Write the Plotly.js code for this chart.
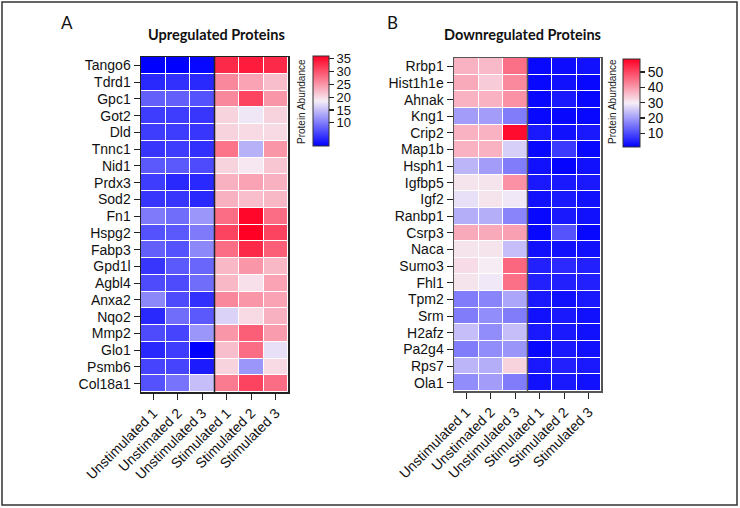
<!DOCTYPE html>
<html><head><meta charset="utf-8">
<script src="https://cdn.plot.ly/plotly-3.0.1.min.js"></script>
<style>html,body{margin:0;padding:0;background:#fff;}#chart{width:740px;height:508px;}</style>
</head><body><div id="chart"></div>
<script>
// ---- data ----
const samples = ["Unstimulated 1","Unstimated 2","Unstimulated 3","Stimulated 1","Stimulated 2","Stimulated 3"];

const upGenes = ["Tango6","Tdrd1","Gpc1","Got2","Dld","Tnnc1","Nid1","Prdx3","Sod2","Fn1","Hspg2","Fabp3","Gpd1l","Agbl4","Anxa2","Nqo2","Mmp2","Glo1","Psmb6","Col18a1"];
const upU1 = [1, 4, 8, 5.5, 5.5, 5, 7.5, 5.5, 5, 10, 7, 8, 5, 6.5, 11, 4, 6.5, 4, 6, 7];
const upU2 = [1, 4.5, 8, 5.5, 5.5, 5.5, 7.5, 4, 5, 9, 7.5, 7, 7.5, 6.5, 6.5, 9, 6, 5.5, 6, 9.5];
const upU3 = [1.5, 4, 7, 5, 5, 4.5, 6.5, 4, 4, 12, 10, 11, 8.5, 9, 4.5, 7.5, 12, 1, 3, 15];
const upS1 = [33, 26, 26, 20.5, 20.5, 27.5, 20.5, 23, 23, 28, 31, 28, 22.5, 22.5, 26, 16.5, 25, 22, 20.5, 27];
const upS2 = [34, 24, 31, 18, 20, 14, 19, 24, 22, 35.5, 36, 33, 25, 19.5, 25, 20, 29, 28, 12, 31];
const upS3 = [33, 22, 25, 20.5, 20, 25, 21.5, 23, 22.5, 28, 31, 29, 22.5, 24, 24, 23, 24.5, 17.5, 20, 28];

const downGenes = ["Rrbp1","Hist1h1e","Ahnak","Kng1","Crip2","Map1b","Hsph1","Igfbp5","Igf2","Ranbp1","Csrp3","Naca","Sumo3","Fhl1","Tpm2","Srm","H2afz","Pa2g4","Rps7","Ola1"];
const dnU1 = [37, 38, 37, 20, 37, 37, 23, 31, 28, 22, 38, 31, 32, 31, 16, 16, 24, 16, 23, 18];
const dnU2 = [36, 34, 37, 20, 37, 37, 20, 31, 31, 22, 38, 31, 30, 29, 17, 18, 18, 18, 22, 20];
const dnU3 = [45, 42, 41, 16, 57, 26, 16, 41, 29, 17, 39, 24, 46, 45, 21, 16, 24, 19, 33, 16];
const dnS1 = [2, 2, 2, 2, 4, 2, 3, 4, 3, 2, 2, 3, 5, 5, 4, 3, 4, 2, 4, 3];
const dnS2 = [2.5, 3, 4, 2, 3, 8, 1.5, 4, 4, 4, 11, 3, 6, 5, 3, 4, 4, 4, 5, 4];
const dnS3 = [3, 2, 2, 2, 4, 2, 3, 4, 3, 3, 2, 3, 5, 5, 4, 3, 3, 3, 4, 3];

const upTicks = [10, 15, 20, 25, 30, 35];
const dnTicks = [10, 20, 30, 40, 50];

// ---- build ----
function rows(cols){ return cols[0].map((_, i) => cols.map(c => c[i])); }
const zUp = rows([upU1, upU2, upU3, upS1, upS2, upS3]);
const zDn = rows([dnU1, dnU2, dnU3, dnS1, dnS2, dnS3]);

const cs = [[0,'rgb(0,0,255)'],[0.5,'rgb(246,238,246)'],[1,'rgb(255,0,36)']];
const W = 740, H = 508;
const font = '"Liberation Sans", Arial, sans-serif';
const tfont = 'Lato, "Open Sans", sans-serif';

const cbBase = {
  thickness: 16, thicknessmode: 'pixels', lenmode: 'pixels',
  xanchor: 'left', yanchor: 'top', outlinewidth: 1, outlinecolor: '#333',
  ticks: 'outside', ticklen: 5, tickcolor: '#222', tickwidth: 1.2, xpad: 0, ypad: 0
};

const traces = [
  {type: 'heatmap', x: samples, y: upGenes, z: zUp, xaxis: 'x', yaxis: 'y',
   colorscale: cs, zmin: 1, zmax: 36, xgap: 1, ygap: 1,
   colorbar: Object.assign({}, cbBase, {x: 313/W, y: 1-56/H, len: 90, tickvals: upTicks,
     tickfont: {family: font, size: 13, color: '#111'}})},
  {type: 'heatmap', x: samples, y: downGenes, z: zDn, xaxis: 'x2', yaxis: 'y2',
   colorscale: cs, zmin: 1, zmax: 58.5, xgap: 1, ygap: 1,
   colorbar: Object.assign({}, cbBase, {x: 623/W, y: 1-59/H, len: 88, thickness: 17, tickvals: dnTicks,
     tickfont: {family: font, size: 14, color: '#111'}})}
];

const axX = (dom, lc) => ({domain: dom, tickangle: -45, ticks: 'outside', ticklen: 6, tickcolor: '#222',
  tickmode: 'array', tickvals: samples, ticktext: samples,
  showline: true, linecolor: lc, linewidth: 1.5, mirror: true, showgrid: false, zeroline: false,
  tickfont: {family: font, size: 14, color: '#111'}, fixedrange: true});
const axY = (dom, lc, genes) => ({domain: dom, autorange: 'reversed', ticks: 'outside', ticklen: 6, tickcolor: '#222',
  tickmode: 'array', tickvals: genes, ticktext: genes,
  showline: true, linecolor: lc, linewidth: 1.5, mirror: true, showgrid: false, zeroline: false,
  tickfont: {family: font, size: 14, color: '#111'}, fixedrange: true});

const layout = {
  width: W, height: H, margin: {l: 0, r: 0, t: 0, b: 0},
  paper_bgcolor: '#fff', plot_bgcolor: '#fff', showlegend: false,
  xaxis: axX([141/W, 288/W], '#222'),
  yaxis: axY([1-392/H, 1-57/H], '#222', upGenes),
  xaxis2: Object.assign(axX([454/W, 601/W], '#555'), {anchor: 'y2'}),
  yaxis2: Object.assign(axY([1-391/H, 1-58/H], '#555', downGenes), {anchor: 'x2'}),
  shapes: [
    {type: 'line', xref: 'x', yref: 'y domain', x0: 2.5, x1: 2.5, y0: 0, y1: 1, line: {color: '#222', width: 1.5}},
    {type: 'line', xref: 'x2', yref: 'y2 domain', x0: 2.5, x1: 2.5, y0: 0, y1: 1, line: {color: '#555', width: 1.5}},
    {type: 'rect', xref: 'paper', yref: 'paper', x0: 2/W, x1: 737/W, y0: 1-505/H, y1: 1-2/H, line: {color: '#333', width: 1.5}}
  ],
  annotations: [
    {text: '<b>Upregulated Proteins</b>', xref: 'paper', yref: 'paper', x: 216/W, y: 1-35/H, showarrow: false,
     font: {family: tfont, size: 14.5, color: '#111'}, xanchor: 'center', yanchor: 'middle'},
    {text: '<b>Downregulated Proteins</b>', xref: 'paper', yref: 'paper', x: 522/W, y: 1-35/H, showarrow: false,
     font: {family: tfont, size: 14.5, color: '#111'}, xanchor: 'center', yanchor: 'middle'},
    {text: 'A', xref: 'paper', yref: 'paper', x: 67/W, y: 1-22/H, showarrow: false,
     font: {family: tfont, size: 17, color: '#111'}, xanchor: 'center', yanchor: 'middle'},
    {text: 'B', xref: 'paper', yref: 'paper', x: 392/W, y: 1-22/H, showarrow: false,
     font: {family: tfont, size: 17, color: '#111'}, xanchor: 'center', yanchor: 'middle'},
    {text: 'Protein Abundance', xref: 'paper', yref: 'paper', x: 302/W, y: 1-102/H, showarrow: false, textangle: -90,
     font: {family: font, size: 10, color: '#222'}, xanchor: 'center', yanchor: 'middle'},
    {text: 'Protein Abundance', xref: 'paper', yref: 'paper', x: 613/W, y: 1-102/H, showarrow: false, textangle: -90,
     font: {family: font, size: 10, color: '#222'}, xanchor: 'center', yanchor: 'middle'}
  ]
};

Plotly.newPlot('chart', traces, layout, {staticPlot: true, displayModeBar: false});
</script></body></html>
